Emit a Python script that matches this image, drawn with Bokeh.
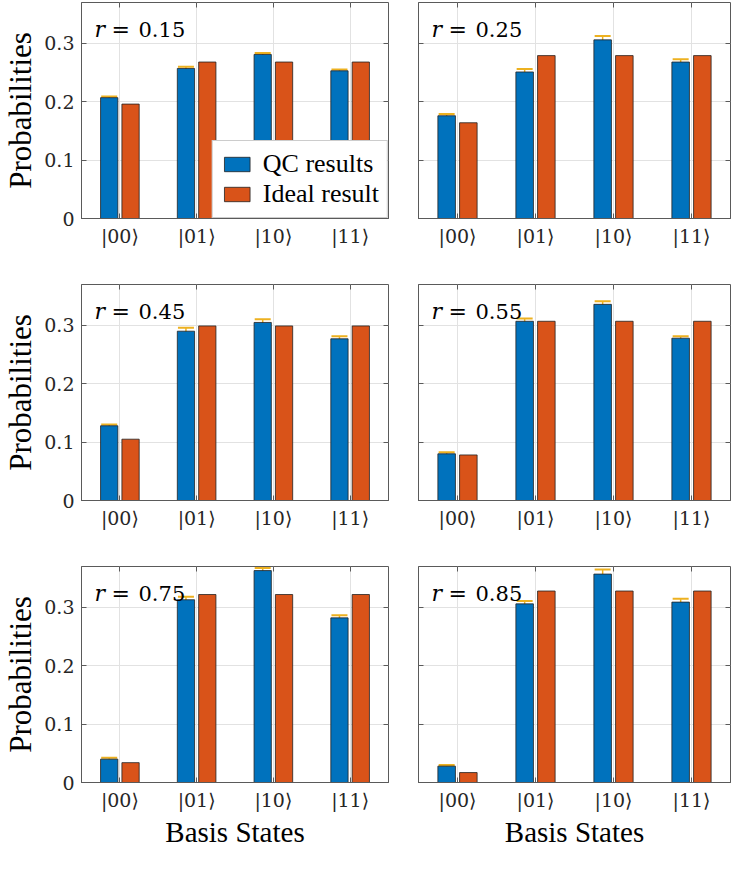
import numpy as np
from bokeh.plotting import figure
from bokeh.models import (ColumnDataSource, Range1d, FixedTicker, LinearAxis, Whisker,
                          TeeHead, Label, Legend, LegendItem)
from bokeh.layouts import gridplot
from bokeh.embed import file_html
from bokeh.resources import INLINE

# ---------------- data ----------------
states = ["|00⟩", "|01⟩", "|10⟩", "|11⟩"]
r_labels = ["0.15", "0.25", "0.45", "0.55", "0.75", "0.85"]

qc_015 = [0.207, 0.257, 0.281, 0.253]
err_015 = [0.0020, 0.0028, 0.0025, 0.0022]
ideal_015 = [0.196, 0.268, 0.268, 0.268]

qc_025 = [0.176, 0.251, 0.306, 0.268]
err_025 = [0.0030, 0.0052, 0.0067, 0.0047]
ideal_025 = [0.164, 0.279, 0.279, 0.279]

qc_045 = [0.128, 0.290, 0.305, 0.277]
err_045 = [0.0020, 0.0058, 0.0056, 0.0044]
ideal_045 = [0.105, 0.299, 0.299, 0.299]

qc_055 = [0.080, 0.307, 0.336, 0.278]
err_055 = [0.0028, 0.0047, 0.0053, 0.0033]
ideal_055 = [0.078, 0.307, 0.307, 0.307]

qc_075 = [0.040, 0.313, 0.363, 0.282]
err_075 = [0.0025, 0.0050, 0.0044, 0.0044]
ideal_075 = [0.034, 0.322, 0.322, 0.322]

qc_085 = [0.028, 0.306, 0.357, 0.309]
err_085 = [0.0020, 0.0047, 0.0080, 0.0058]
ideal_085 = [0.017, 0.328, 0.328, 0.328]

y_ticks = [0, 0.1, 0.2, 0.3]
y_tick_labels = ["0", "0.1", "0.2", "0.3"]

panels = [
    (r_labels[0], qc_015, err_015, ideal_015),
    (r_labels[1], qc_025, err_025, ideal_025),
    (r_labels[2], qc_045, err_045, ideal_045),
    (r_labels[3], qc_055, err_055, ideal_055),
    (r_labels[4], qc_075, err_075, ideal_075),
    (r_labels[5], qc_085, err_085, ideal_085),
]

# ---------------- style ----------------
BLUE = "#0072BD"
ORANGE = "#D95319"
YELLOW = "#EDB120"
FONT = "Liberation Serif"
MFONT = "DejaVu Serif"
EDGE = "#222222"
AX = "#5a5a5a"
GRID = "#e2e2e2"

BAR_W = 0.225
OFF = 0.139

x_pos = np.arange(1, len(states) + 1)


def box_axis(ticks):
    ax = LinearAxis(ticker=FixedTicker(ticks=ticks))
    ax.major_label_overrides = {t: "" for t in ticks}
    ax.major_label_text_font_size = "0px"
    ax.major_label_standoff = 0
    ax.major_tick_in = 5
    ax.major_tick_out = 0
    ax.minor_tick_line_color = None
    ax.axis_line_color = None
    ax.major_tick_line_color = AX
    return ax


def make_panel(idx, r_txt, qc, err, ideal):
    col = idx % 2
    row = idx // 2
    left = col == 0
    bottom = row == 2

    plot_h = 216
    top_b = 2 if row == 0 else 8
    bot_b = 70 if bottom else 58
    if left:
        mb_l, plot_w, mb_r = 74, 314, 6
    else:
        mb_l, plot_w, mb_r = 24, 312, 1

    p = figure(width=mb_l + plot_w + mb_r, height=top_b + plot_h + bot_b,
               min_border_left=mb_l, min_border_right=mb_r,
               min_border_top=top_b, min_border_bottom=bot_b,
               x_range=Range1d(0.5, 4.5), y_range=Range1d(0, 0.37),
               output_backend="svg", toolbar_location=None, tools="")

    p.background_fill_color = "white"
    p.border_fill_color = "white"
    p.outline_line_color = AX
    p.outline_line_width = 1

    # grids
    p.xgrid.ticker = FixedTicker(ticks=list(x_pos))
    p.ygrid.ticker = FixedTicker(ticks=y_ticks)
    p.xgrid.grid_line_color = GRID
    p.ygrid.grid_line_color = GRID

    # x axis
    xa = p.xaxis[0]
    xa.ticker = FixedTicker(ticks=list(x_pos))
    xa.major_label_overrides = {int(x): s for x, s in zip(x_pos, states)}
    xa.major_label_text_font = MFONT
    xa.major_label_text_font_size = "19px"
    xa.major_label_text_color = "#262626"
    xa.major_label_standoff = 6
    xa.major_tick_in = 5
    xa.major_tick_out = 0
    xa.minor_tick_line_color = None
    xa.axis_line_color = AX
    xa.major_tick_line_color = AX
    if bottom:
        xa.axis_label = "Basis States"
        xa.axis_label_text_font = FONT
        xa.axis_label_text_font_size = "29px"
        xa.axis_label_text_font_style = "normal"
        xa.axis_label_text_color = "black"
        xa.axis_label_standoff = 2

    # y axis
    ya = p.yaxis[0]
    ya.ticker = FixedTicker(ticks=y_ticks)
    ya.major_tick_in = 5
    ya.major_tick_out = 0
    ya.minor_tick_line_color = None
    ya.axis_line_color = AX
    ya.major_tick_line_color = AX
    if left:
        ya.major_label_overrides = {t: s for t, s in zip(y_ticks, y_tick_labels)}
        ya.major_label_text_font = MFONT
        ya.major_label_text_font_size = "19px"
        ya.major_label_text_color = "#262626"
        ya.major_label_standoff = 7
        ya.axis_label = "Probabilities"
        ya.axis_label_text_font = FONT
        ya.axis_label_text_font_size = "31px"
        ya.axis_label_text_font_style = "normal"
        ya.axis_label_text_color = "black"
        ya.axis_label_standoff = 3
    else:
        ya.major_label_overrides = {t: "" for t in y_ticks}
        ya.major_label_text_font_size = "0px"
        ya.major_label_standoff = 0

    # box ticks (right / top)
    p.add_layout(box_axis(y_ticks), "right")
    p.add_layout(box_axis([float(x) for x in x_pos]), "above")

    # bars
    src = ColumnDataSource(dict(
        xq=x_pos - OFF, xi=x_pos + OFF, qc=qc, ideal=ideal,
        upper=np.array(qc) + np.array(err), lower=np.array(qc) - np.array(err)))
    rq = p.vbar(x="xq", top="qc", width=BAR_W, source=src,
                fill_color=BLUE, line_color=EDGE, line_width=0.8)
    ri = p.vbar(x="xi", top="ideal", width=BAR_W, source=src,
                fill_color=ORANGE, line_color=EDGE, line_width=0.8)

    # error bars
    w = Whisker(source=src, base="xq", upper="upper", lower="lower",
                dimension="height", line_color=YELLOW, line_width=1.5,
                upper_head=TeeHead(size=16, line_color=YELLOW, line_width=2),
                lower_head=TeeHead(size=16, line_color=YELLOW, line_width=2))
    p.add_layout(w)

    # r label
    base_y = plot_h - 27
    p.add_layout(Label(x=13, y=base_y, x_units="screen", y_units="screen",
                       text="r", text_font=MFONT, text_font_style="italic",
                       text_font_size="22px", text_color="black",
                       text_baseline="alphabetic"))
    p.add_layout(Label(x=30, y=base_y, x_units="screen", y_units="screen",
                       text="=", text_font=MFONT,
                       text_font_size="22px", text_color="black",
                       text_baseline="alphabetic"))
    p.add_layout(Label(x=57, y=base_y, x_units="screen", y_units="screen",
                       text=r_txt, text_font=MFONT,
                       text_font_size="21px",
                       text_color="black", text_baseline="alphabetic"))

    if idx == 0:
        leg = Legend(items=[LegendItem(label="QC results", renderers=[rq]),
                            LegendItem(label="Ideal result", renderers=[ri])],
                     location="bottom_right")
        leg.label_text_font = FONT
        leg.label_text_font_size = "26px"
        leg.label_text_color = "black"
        leg.glyph_width = 32
        leg.glyph_height = 18
        leg.label_height = 24
        leg.label_standoff = 10
        leg.spacing = 0
        leg.padding = 8
        leg.margin = 0
        leg.border_line_color = "#9a9a9a"
        leg.border_line_width = 1
        leg.background_fill_color = "white"
        leg.background_fill_alpha = 1.0
        p.add_layout(leg)

    return p


figs = [make_panel(i, *pn) for i, pn in enumerate(panels)]
grid = gridplot([[figs[0], figs[1]], [figs[2], figs[3]], [figs[4], figs[5]]],
                toolbar_location=None)

open("out.html", "w").write(file_html(grid, INLINE))
